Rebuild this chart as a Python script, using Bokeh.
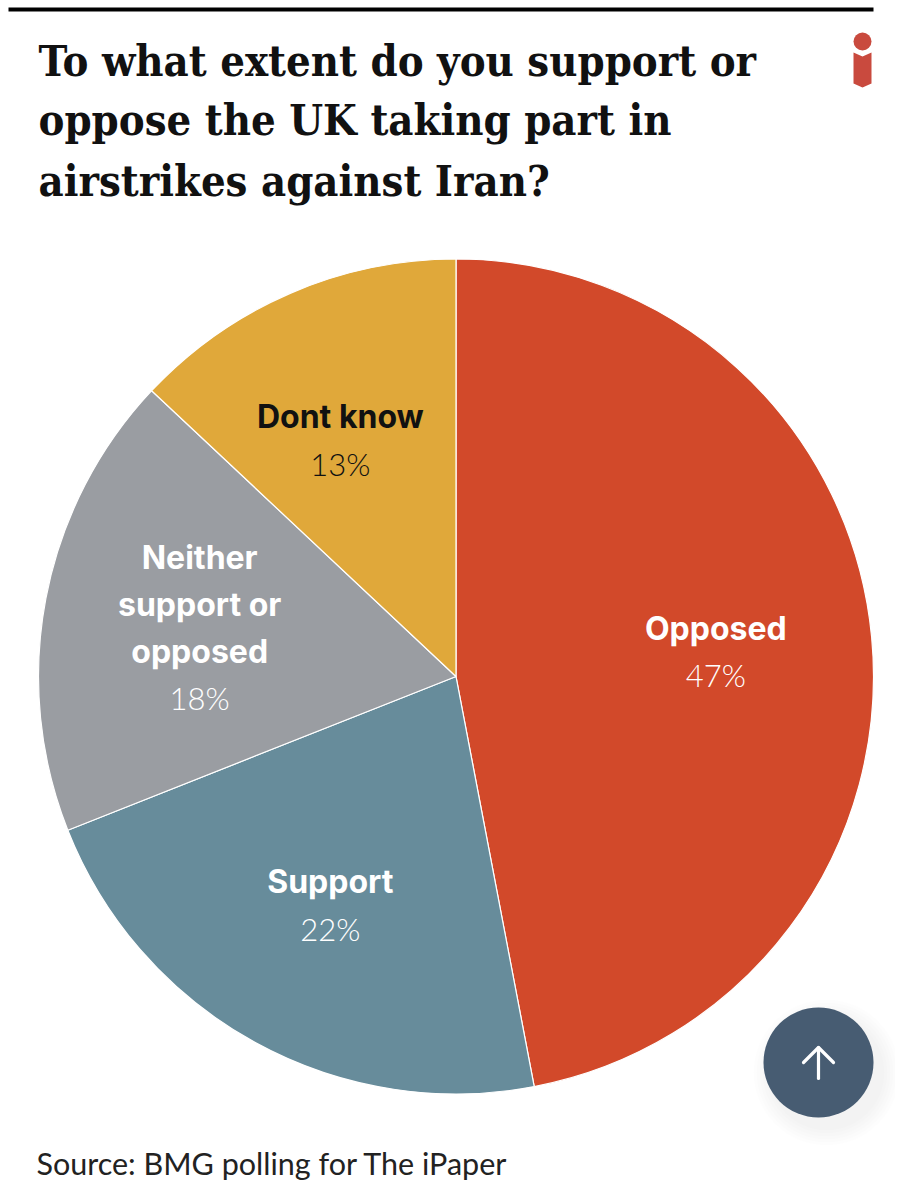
from math import pi, sin, cos
from bokeh.plotting import figure
from bokeh.models import Range1d
from bokeh.embed import file_html
from bokeh.resources import INLINE
from bokeh.core.properties import value

categories = ["Opposed", "Support", "Neither support or opposed", "Dont know"]
values = [47, 22, 18, 13]
colors = ["#D2492A", "#678C9B", "#9A9DA2", "#E0A83A"]
label_lines = [["Opposed"], ["Support"], ["Neither", "support or", "opposed"], ["Dont know"]]
label_colors = ["#FFFFFF", "#FFFFFF", "#FFFFFF", "#111111"]
title_lines = ["To what extent do you support or", "oppose the UK taking part in", "airstrikes against Iran?"]
source_text = "Source: BMG polling for The iPaper"

W, H = 895, 1184
Y = lambda py: H - py

p = figure(width=W, height=H, output_backend="svg", toolbar_location=None,
           x_range=Range1d(0, W), y_range=Range1d(0, H), min_border=0,
           background_fill_color="#FFFFFF", border_fill_color="#FFFFFF", outline_line_color=None)
p.axis.visible = False
p.grid.visible = False

TITLE_FONT = value("DejaVu Serif Condensed")
LABEL_FONT = value("Inter")
VALUE_FONT = value("Lato Light")
SOURCE_FONT = value("Lato")

# top rule
p.quad(left=[8], right=[873], bottom=[Y(11)], top=[Y(7)], color="#000000", line_color=None)

# title
for line, py in zip(title_lines, [60, 119, 180]):
    p.text(x=[38], y=[Y(py)], text=[line], text_font=TITLE_FONT, text_font_size="43.2px",
           text_font_style="bold", text_color="#111111", text_align="left", text_baseline="middle")

# logo
p.scatter(x=[862], y=[Y(41)], size=18, marker="circle", color="#C94A3E", line_color=None)
p.patch(x=[853, 862, 871, 871, 862, 853], y=[Y(52), Y(56), Y(52), Y(83), Y(87), Y(83)],
        color="#C94A3E", line_color=None)

# pie
cx, cy, R = 455.5, Y(676), 417.5
total = sum(values)
cum = 0
for v, c, lines, lc in zip(values, colors, label_lines, label_colors):
    start = cum / total * 2 * pi
    end = (cum + v) / total * 2 * pi
    # clockwise from the top
    p.wedge(x=[cx], y=[cy], radius=R, start_angle=pi / 2 - end, end_angle=pi / 2 - start,
            fill_color=c, line_color="#FFFFFF", line_width=1.2)
    mid = (start + end) / 2
    lx = cx + 0.625 * R * sin(mid)
    ly = cy + 0.625 * R * cos(mid)
    if v == 13:
        lx -= 12
        ly -= 3
    n = len(lines)
    step = 47
    top = ly + n * step / 2
    for i, t in enumerate(lines):
        p.text(x=[lx], y=[top - i * step], text=[t], text_font=LABEL_FONT, text_font_size="32px",
               text_font_style="bold", text_color=lc, text_align="center", text_baseline="middle")
    p.text(x=[lx], y=[top - n * step], text=[f"{v}%"], text_font=VALUE_FONT, text_font_size="31px",
           text_color=lc, text_align="center", text_baseline="middle")
    cum += v

# back-to-top button with soft shadow
for grow in [36, 30, 24, 18, 12, 6]:
    p.scatter(x=[826], y=[Y(1072)], size=110 + grow, marker="circle", color="#000000",
              alpha=0.007, line_color=None)
p.scatter(x=[818], y=[Y(1062)], size=110, marker="circle", color="#475C72", line_color=None)
p.multi_line(xs=[[818, 818], [803, 818, 833]], ys=[[Y(1078), Y(1047)], [Y(1062), Y(1047), Y(1062)]],
             line_color="#FFFFFF", line_width=3.2, line_cap="round", line_join="round")

# source
p.text(x=[36], y=[Y(1162)], text=[source_text], text_font=SOURCE_FONT, text_font_size="30.5px",
       text_color="#222222", text_align="left", text_baseline="middle")

open("out.html", "w").write(file_html(p, INLINE))
